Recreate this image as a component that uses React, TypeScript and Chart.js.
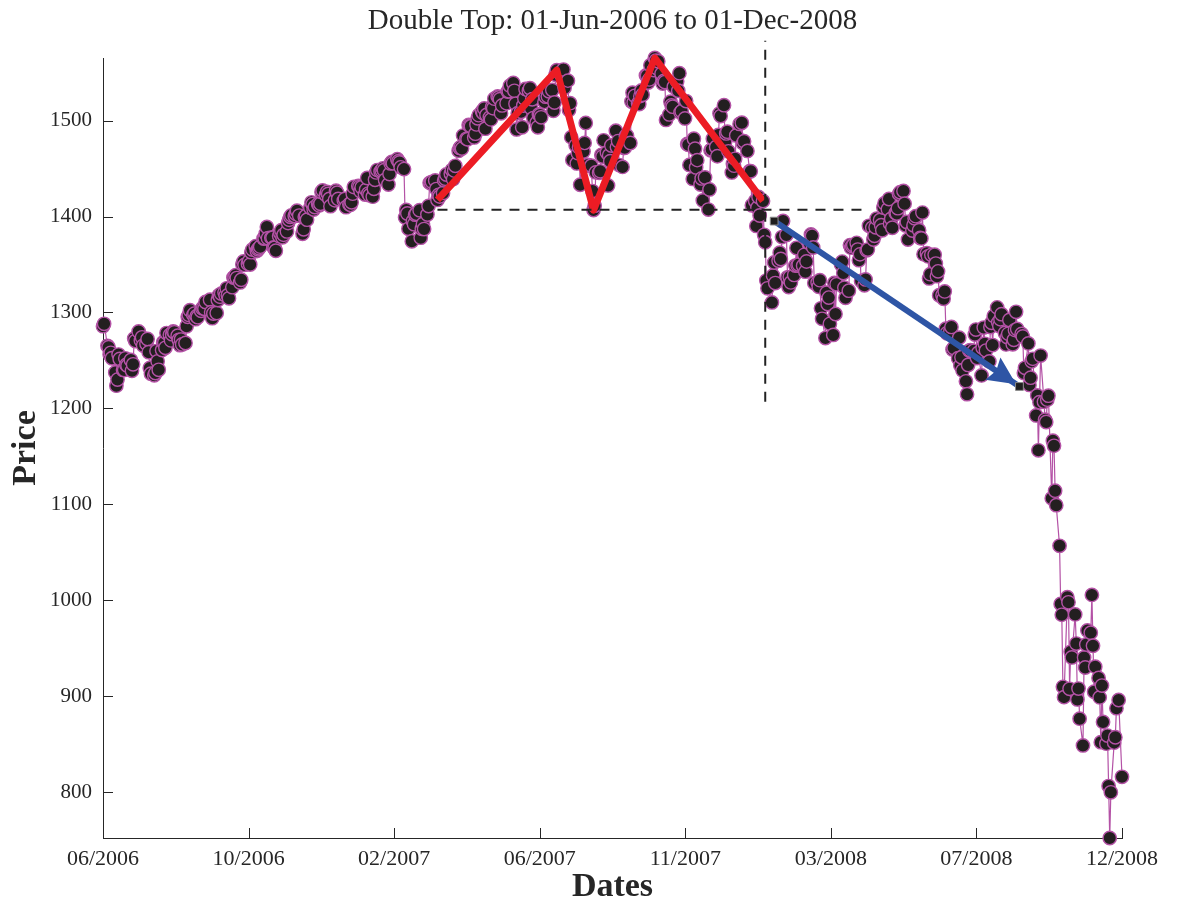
import React, { useEffect, useRef } from "react";
import { Chart, registerables } from "chart.js";

Chart.register(...registerables);

// ---- calendar -------------------------------------------------------------
const FIRST_DATE = "2006-06-01";
const LAST_DATE = "2008-12-01";
const DAY_MS = 86400000;
const START_MS = Date.parse(FIRST_DATE + "T00:00:00Z");
const dayOf = (iso: string) => (Date.parse(iso + "T00:00:00Z") - START_MS) / DAY_MS;

// NYSE closures inside the window
const marketHolidays = [
  "2006-07-04", "2006-09-04", "2006-11-23", "2006-12-25",
  "2007-01-01", "2007-01-02", "2007-01-15", "2007-02-19", "2007-04-06", "2007-05-28",
  "2007-07-04", "2007-09-03", "2007-11-22", "2007-12-25",
  "2008-01-01", "2008-01-21", "2008-02-18", "2008-03-21", "2008-05-26", "2008-07-04",
  "2008-09-01", "2008-11-27",
];

// ---- daily closes, one array per month -------------------------------------
const closes2006Jun = [1285.71, 1288.22, 1265.29, 1263.85, 1256.15, 1257.93, 1252.3, 1237.44, 1223.69, 1230.04, 1256.16, 1251.54, 1240.13, 1240.12, 1252.2, 1245.6, 1244.5, 1250.56, 1239.2, 1246.0, 1272.87, 1270.2];
const closes2006Jul = [1280.19, 1270.91, 1274.08, 1265.48, 1267.34, 1272.43, 1258.6, 1242.28, 1236.2, 1234.49, 1236.86, 1259.81, 1249.13, 1240.29, 1260.91, 1268.88, 1268.4, 1263.2, 1278.55, 1276.66];
const closes2006Aug = [1270.92, 1277.41, 1280.27, 1279.36, 1275.77, 1271.48, 1265.95, 1271.81, 1266.74, 1268.21, 1285.58, 1295.43, 1297.48, 1302.3, 1297.52, 1298.82, 1292.99, 1296.06, 1295.09, 1301.78, 1304.28, 1305.37, 1303.82];
const closes2006Sep = [1311.01, 1313.25, 1300.26, 1294.02, 1298.92, 1299.54, 1313.0, 1318.07, 1316.28, 1319.66, 1321.18, 1317.64, 1325.18, 1318.03, 1314.78, 1326.37, 1336.35, 1336.59, 1338.88, 1335.85];
const closes2006Oct = [1331.32, 1334.11, 1350.2, 1353.22, 1349.59, 1350.66, 1353.42, 1349.95, 1362.83, 1365.62, 1369.06, 1364.05, 1365.8, 1366.96, 1368.6, 1377.02, 1377.38, 1382.22, 1389.08, 1377.34, 1377.93, 1377.94];
const closes2006Nov = [1367.81, 1367.34, 1364.3, 1379.78, 1382.84, 1385.72, 1378.33, 1380.9, 1384.42, 1393.22, 1396.57, 1399.76, 1401.2, 1400.5, 1402.81, 1406.09, 1400.95, 1381.96, 1386.72, 1399.48, 1400.63];
const closes2006Dec = [1396.71, 1409.12, 1414.76, 1412.9, 1407.29, 1409.84, 1413.04, 1411.56, 1413.21, 1425.49, 1427.09, 1422.48, 1425.55, 1423.53, 1418.3, 1410.76, 1416.9, 1426.84, 1424.73, 1418.3];
const closes2007Jan = [1416.6, 1418.34, 1409.71, 1412.84, 1412.11, 1414.85, 1423.82, 1430.73, 1431.9, 1430.62, 1426.37, 1430.5, 1422.95, 1427.99, 1440.13, 1423.9, 1422.18, 1420.62, 1428.82, 1438.24];
const closes2007Feb = [1445.94, 1448.39, 1446.99, 1448.0, 1450.02, 1448.31, 1438.06, 1433.37, 1444.26, 1455.3, 1456.81, 1455.54, 1459.68, 1457.63, 1456.38, 1451.19, 1449.37, 1399.04, 1406.82];
const closes2007Mar = [1403.17, 1387.17, 1374.12, 1395.41, 1391.97, 1401.89, 1402.84, 1406.6, 1377.95, 1387.17, 1392.28, 1386.95, 1402.06, 1410.94, 1435.04, 1434.54, 1436.11, 1437.5, 1428.61, 1417.23, 1422.53, 1420.86];
const closes2007Apr = [1424.55, 1437.77, 1439.37, 1443.76, 1444.61, 1448.39, 1438.87, 1447.8, 1452.85, 1468.47, 1471.48, 1472.5, 1470.73, 1484.35, 1480.93, 1480.41, 1495.42, 1494.25, 1494.07, 1482.37];
const closes2007May = [1486.3, 1495.92, 1502.39, 1505.62, 1509.48, 1507.72, 1512.58, 1491.47, 1505.85, 1503.15, 1501.19, 1514.14, 1512.75, 1522.75, 1525.1, 1524.12, 1522.28, 1507.51, 1515.73, 1518.11, 1530.23, 1530.62];
const closes2007Jun = [1536.34, 1539.18, 1530.95, 1517.38, 1490.72, 1507.67, 1509.12, 1493.0, 1515.67, 1522.97, 1532.91, 1531.05, 1533.7, 1512.84, 1522.19, 1502.56, 1497.74, 1492.89, 1506.34, 1505.71, 1503.35];
const closes2007Jul = [1519.43, 1524.87, 1525.4, 1530.44, 1531.85, 1510.12, 1518.76, 1547.7, 1552.5, 1549.52, 1549.37, 1546.17, 1553.08, 1534.1, 1541.57, 1511.04, 1518.09, 1482.66, 1458.95, 1473.91, 1455.27];
const closes2007Aug = [1465.81, 1472.2, 1433.06, 1467.67, 1476.71, 1497.49, 1453.09, 1453.64, 1452.92, 1426.54, 1406.7, 1411.27, 1445.94, 1445.55, 1447.12, 1464.07, 1462.5, 1479.37, 1466.79, 1432.36, 1463.76, 1457.64, 1473.99];
const closes2007Sep = [1489.42, 1472.29, 1478.55, 1453.55, 1451.7, 1471.49, 1471.56, 1483.95, 1484.25, 1476.65, 1519.78, 1529.03, 1518.75, 1525.75, 1517.73, 1517.21, 1525.42, 1531.38, 1526.75];
const closes2007Oct = [1547.04, 1546.63, 1539.59, 1542.84, 1557.59, 1552.58, 1565.15, 1562.47, 1554.41, 1561.8, 1548.71, 1538.53, 1541.24, 1540.08, 1500.63, 1506.33, 1519.59, 1515.88, 1514.4, 1535.28, 1540.98, 1531.02, 1549.38];
const closes2007Nov = [1508.44, 1509.65, 1502.17, 1520.27, 1475.62, 1474.77, 1453.7, 1439.18, 1481.05, 1470.58, 1451.15, 1458.74, 1433.27, 1439.7, 1416.77, 1440.7, 1407.22, 1428.23, 1469.02, 1469.72, 1481.14];
const closes2007Dec = [1472.42, 1462.79, 1485.01, 1507.34, 1504.66, 1515.96, 1477.65, 1486.59, 1488.41, 1467.95, 1445.9, 1454.98, 1453.0, 1460.12, 1484.46, 1496.45, 1497.66, 1476.27, 1478.49, 1468.36];
const closes2008Jan = [1447.16, 1447.16, 1411.63, 1416.18, 1390.19, 1409.13, 1420.33, 1401.02, 1416.25, 1380.95, 1373.2, 1333.25, 1325.19, 1310.5, 1338.6, 1352.07, 1330.61, 1353.96, 1362.3, 1355.81, 1378.55];
const closes2008Feb = [1395.42, 1380.82, 1336.64, 1326.45, 1336.91, 1331.29, 1339.13, 1348.86, 1367.21, 1348.86, 1349.99, 1348.78, 1360.03, 1342.53, 1353.11, 1371.8, 1381.29, 1380.02, 1367.68, 1330.63];
const closes2008Mar = [1331.34, 1326.75, 1333.7, 1304.34, 1293.37, 1273.37, 1320.65, 1308.77, 1315.48, 1288.14, 1276.6, 1330.74, 1298.42, 1329.51, 1349.88, 1352.99, 1341.13, 1325.76, 1315.22, 1322.7];
const closes2008Apr = [1370.18, 1367.53, 1369.31, 1370.4, 1372.54, 1365.54, 1354.49, 1360.55, 1332.83, 1328.32, 1334.43, 1364.71, 1365.56, 1390.33, 1388.17, 1375.94, 1379.93, 1388.82, 1397.84, 1396.37, 1390.94, 1385.59];
const closes2008May = [1409.34, 1413.9, 1407.49, 1418.26, 1392.57, 1397.68, 1388.28, 1403.58, 1403.04, 1408.66, 1423.57, 1425.35, 1426.63, 1413.4, 1390.71, 1394.35, 1375.93, 1385.35, 1390.84, 1398.26, 1400.38];
const closes2008Jun = [1385.67, 1377.65, 1377.2, 1404.05, 1360.68, 1361.76, 1358.44, 1335.49, 1339.87, 1360.03, 1360.14, 1350.93, 1337.81, 1342.83, 1317.93, 1318.0, 1314.29, 1321.97, 1283.15, 1278.38, 1280.0];
const closes2008Jul = [1284.91, 1261.52, 1262.9, 1252.31, 1273.7, 1244.69, 1253.39, 1239.49, 1228.3, 1214.91, 1245.36, 1260.32, 1260.68, 1260.0, 1277.0, 1282.19, 1252.54, 1257.76, 1234.37, 1263.2, 1284.26, 1267.38];
const closes2008Aug = [1260.31, 1249.01, 1284.88, 1289.19, 1266.07, 1296.32, 1305.32, 1289.59, 1285.83, 1292.93, 1298.2, 1278.6, 1266.69, 1274.54, 1277.72, 1292.2, 1266.84, 1271.51, 1281.66, 1300.68, 1282.83];
const closes2008Sep = [1277.58, 1274.98, 1236.83, 1242.31, 1267.79, 1224.51, 1232.04, 1249.05, 1251.7, 1192.7, 1213.6, 1156.39, 1206.51, 1255.08, 1207.09, 1188.22, 1185.87, 1209.18, 1213.27, 1106.39, 1166.36];
const closes2008Oct = [1161.06, 1114.28, 1099.23, 1056.89, 996.23, 984.94, 909.92, 899.22, 1003.35, 998.01, 907.84, 946.43, 940.55, 985.4, 955.05, 896.78, 908.11, 876.77, 848.92, 940.51, 930.09, 954.09, 968.75];
const closes2008Nov = [966.3, 1005.75, 952.77, 904.88, 930.99, 919.21, 898.95, 852.3, 911.29, 873.29, 850.75, 859.12, 806.58, 752.44, 800.03, 851.81, 857.39, 887.68, 896.24];
const closes2008Dec = [816.21];

const closesByMonth: [number, number, number[]][] = [
  [2006, 6, closes2006Jun], [2006, 7, closes2006Jul], [2006, 8, closes2006Aug],
  [2006, 9, closes2006Sep], [2006, 10, closes2006Oct], [2006, 11, closes2006Nov],
  [2006, 12, closes2006Dec], [2007, 1, closes2007Jan], [2007, 2, closes2007Feb],
  [2007, 3, closes2007Mar], [2007, 4, closes2007Apr], [2007, 5, closes2007May],
  [2007, 6, closes2007Jun], [2007, 7, closes2007Jul], [2007, 8, closes2007Aug],
  [2007, 9, closes2007Sep], [2007, 10, closes2007Oct], [2007, 11, closes2007Nov],
  [2007, 12, closes2007Dec], [2008, 1, closes2008Jan], [2008, 2, closes2008Feb],
  [2008, 3, closes2008Mar], [2008, 4, closes2008Apr], [2008, 5, closes2008May],
  [2008, 6, closes2008Jun], [2008, 7, closes2008Jul], [2008, 8, closes2008Aug],
  [2008, 9, closes2008Sep], [2008, 10, closes2008Oct], [2008, 11, closes2008Nov],
  [2008, 12, closes2008Dec],
];

// ---- pattern annotations (date, price) --------------------------------------
const doubleTopPath: [string, number][] = [
  ["2007-03-28", 1417.23], ["2007-07-13", 1552.5], ["2007-08-15", 1406.7],
  ["2007-10-09", 1565.15], ["2008-01-14", 1416.25],
];
const necklineLine: [string, number][] = [["2007-03-28", 1407], ["2008-04-16", 1407]];
const breakoutLine: [string, number][] = [["2008-01-16", 1207], ["2008-01-16", 1583]];
const targetArrow: [string, number][] = [["2008-01-24", 1395.2], ["2008-08-31", 1222.9]];

// ---- axis labels -------------------------------------------------------------
const xTickLabels = ["06/2006", "10/2006", "02/2007", "06/2007", "11/2007", "03/2008", "07/2008", "12/2008"];
const yTickValues = [800, 900, 1000, 1100, 1200, 1300, 1400, 1500];
const TITLE = "Double Top: 01-Jun-2006 to 01-Dec-2008";

const FONT = '"Liberation Serif", "DejaVu Serif", serif';
const INK = "#262626";
const MAGENTA = "#b452a6";

function tradingDays(year: number, month: number): number[] {
  const out: number[] = [];
  const last = new Date(Date.UTC(year, month, 0)).getUTCDate();
  for (let d = 1; d <= last; d++) {
    const t = Date.UTC(year, month - 1, d);
    const wd = new Date(t).getUTCDay();
    if (wd === 0 || wd === 6) continue;
    if (marketHolidays.includes(new Date(t).toISOString().slice(0, 10))) continue;
    out.push((t - START_MS) / DAY_MS);
  }
  return out;
}

const priceSeries = closesByMonth.flatMap(([yr, mo, vals]) => {
  const days = tradingDays(yr, mo);
  return vals.map((v, i) => ({ x: days[i], y: v }));
});
const toPoints = (pts: [string, number][]) => pts.map(([d, v]) => ({ x: dayOf(d), y: v }));

const X_MAX = dayOf(LAST_DATE);
const xTickValues = xTickLabels.map((_, i) => (i * X_MAX) / (xTickLabels.length - 1));
const yMin = Math.min(...priceSeries.map((p) => p.y));
const yMax = Math.max(...priceSeries.map((p) => p.y));

const ARROW_INDEX = 3;

const arrowHeadPlugin = {
  id: "arrowHead",
  afterDatasetDraw(chart: any, args: any) {
    if (args.index !== ARROW_INDEX) return;
    const pts = chart.getDatasetMeta(ARROW_INDEX).data;
    const a = pts[0], b = pts[1];
    const ang = Math.atan2(b.y - a.y, b.x - a.x);
    const c = Math.cos(ang), s = Math.sin(ang);
    const tipX = b.x - 4 * c, tipY = b.y - 4 * s;
    const L = 28, W = 13.5, notch = 4;
    const bx = tipX - L * c, by = tipY - L * s;
    const ctx = chart.ctx;
    ctx.save();
    ctx.fillStyle = "#2e55a5";
    ctx.beginPath();
    ctx.moveTo(tipX, tipY);
    ctx.lineTo(bx - W * s, by + W * c);
    ctx.lineTo(bx + notch * c, by + notch * s);
    ctx.lineTo(bx + W * s, by - W * c);
    ctx.closePath();
    ctx.fill();
    ctx.restore();
  },
};

const axesDecorPlugin = {
  id: "axesDecor",
  afterDraw(chart: any) {
    const { ctx, chartArea } = chart;
    const { left, right, bottom } = chartArea;
    const xs = chart.scales.x, ys = chart.scales.y;
    ctx.save();
    ctx.strokeStyle = INK;
    ctx.lineWidth = 1;
    ctx.beginPath();
    xs.ticks.forEach((t: any) => {
      const px = Math.round(xs.getPixelForValue(t.value)) + 0.5;
      ctx.moveTo(px, bottom);
      ctx.lineTo(px, bottom - 10);
    });
    ys.ticks.forEach((t: any) => {
      const py = Math.round(ys.getPixelForValue(t.value)) + 0.5;
      ctx.moveTo(left, py);
      ctx.lineTo(left + 10, py);
    });
    ctx.stroke();
    ctx.fillStyle = INK;
    ctx.font = `29px ${FONT}`;
    ctx.textAlign = "center";
    ctx.textBaseline = "middle";
    ctx.fillText(TITLE, (left + right) / 2, 21);
    ctx.restore();
  },
};

export default function App() {
  const canvasRef = useRef<HTMLCanvasElement | null>(null);

  useEffect(() => {
    document.body.style.margin = "0";
    const canvas = canvasRef.current;
    if (!canvas) return;
    const chart = new Chart(canvas, {
      type: "line",
      data: {
        datasets: [
          {
            label: "endpoints",
            data: toPoints(targetArrow),
            showLine: false,
            pointStyle: "rect",
            pointRadius: 5.5,
            pointBackgroundColor: "#1e1e1e",
            pointBorderColor: "#8a8a8a",
            pointBorderWidth: 1,
            clip: false,
            order: 1,
          } as any,
          {
            label: "neckline",
            data: toPoints(necklineLine),
            borderColor: "#222222",
            borderWidth: 2,
            borderDash: [10, 8],
            pointRadius: 0,
            clip: false,
            order: 3,
          },
          {
            label: "breakout",
            data: toPoints(breakoutLine),
            borderColor: "#222222",
            borderWidth: 2,
            borderDash: [10, 8],
            pointRadius: 0,
            clip: false,
            order: 3,
          },
          {
            label: "target",
            data: toPoints(targetArrow),
            borderColor: "#2e55a5",
            borderWidth: 6,
            pointRadius: 0,
            clip: false,
            order: 2,
          },
          {
            label: "double top",
            data: toPoints(doubleTopPath),
            borderColor: "#ec1c24",
            borderWidth: 7,
            borderJoinStyle: "round",
            pointRadius: 0,
            clip: false,
            order: 4,
          },
          {
            label: "Price",
            data: priceSeries,
            borderColor: MAGENTA,
            borderWidth: 1.2,
            pointRadius: 6.7,
            pointBackgroundColor: "#231f20",
            pointBorderColor: MAGENTA,
            pointBorderWidth: 1.4,
            clip: false,
            order: 10,
          },
        ],
      },
      options: {
        responsive: false,
        animation: false,
        events: [],
        layout: { padding: { left: 0, top: 58, right: 56, bottom: 0 } },
        plugins: {
          legend: { display: false },
          tooltip: { enabled: false },
          title: { display: false },
        },
        scales: {
          x: {
            type: "linear",
            min: 0,
            max: X_MAX,
            afterFit: (s: any) => { s.height = 65; },
            afterBuildTicks: (s: any) => { s.ticks = xTickValues.map((v) => ({ value: v })); },
            ticks: {
              autoSkip: false,
              maxRotation: 0,
              padding: 8,
              color: INK,
              font: { family: FONT, size: 22 },
              callback: (_v: any, i: number) => xTickLabels[i],
            },
            grid: { display: false, drawTicks: false },
            border: { display: true, color: INK, width: 1 },
            title: {
              display: true,
              text: "Dates",
              color: INK,
              font: { family: FONT, size: 34, weight: "bold", lineHeight: 1 },
              padding: { top: 0, bottom: -1 },
            },
          },
          y: {
            type: "linear",
            min: yMin,
            max: yMax,
            afterFit: (s: any) => { s.width = 103; },
            afterBuildTicks: (s: any) => { s.ticks = yTickValues.map((v) => ({ value: v })); },
            ticks: {
              padding: 11,
              color: INK,
              font: { family: FONT, size: 21 },
              callback: (v: any) => String(v),
            },
            grid: { display: false, drawTicks: false },
            border: { display: true, color: INK, width: 1 },
            title: {
              display: true,
              text: "Price",
              color: INK,
              font: { family: FONT, size: 34, weight: "bold", lineHeight: 1 },
              padding: { top: 9, bottom: 0 },
            },
          },
        },
      } as any,
      plugins: [arrowHeadPlugin, axesDecorPlugin],
    });
    return () => chart.destroy();
  }, []);

  return (
    <div style={{ width: 1178, height: 903, background: "#ffffff" }}>
      <canvas ref={canvasRef} width={1178} height={903} style={{ display: "block" }} />
    </div>
  );
}
